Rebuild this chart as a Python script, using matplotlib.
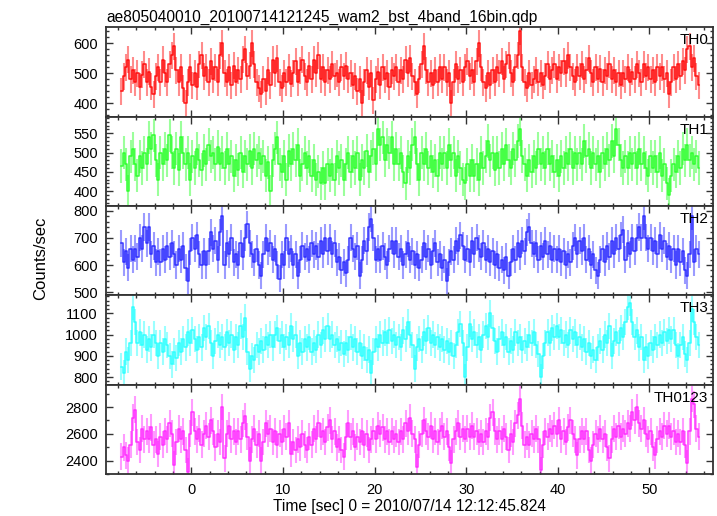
import numpy as np
import matplotlib
matplotlib.use("Agg")
import matplotlib.pyplot as plt
from matplotlib.ticker import MultipleLocator

plt.rcParams['font.family'] = ['Liberation Sans', 'DejaVu Sans']

# light curves, 0.25 s bins starting at t = -7.75 s
t_start = -7.75
bin_size = 0.25

th0 = [440, 490, 520, 545, 480, 510, 470, 500, 455, 495,
       530, 470, 505, 455, 430, 490, 520, 470, 545, 500,
       470, 530, 560, 590, 510, 470, 520, 450, 400, 470,
       520, 460, 500, 455, 530, 560, 490, 520, 470, 540,
       480, 520, 470, 560, 600, 500, 470, 520, 460, 525,
       470, 510, 480, 545, 580, 490, 525, 600, 530, 470,
       450, 430, 480, 440, 510, 460, 545, 500, 550, 470,
       450, 500, 470, 520, 465, 500, 540, 470, 510, 545,
       490, 470, 525, 480, 545, 500, 560, 480, 520, 470,
       510, 480, 530, 490, 500, 470, 520, 490, 525, 480,
       500, 460, 490, 440, 480, 400, 470, 510, 455, 500,
       410, 480, 505, 460, 520, 480, 500, 455, 510, 490,
       520, 470, 510, 480, 545, 500, 550, 490, 470, 430,
       480, 530, 590, 510, 470, 500, 460, 510, 470, 520,
       480, 520, 470, 500, 400, 470, 530, 480, 510, 470,
       520, 540, 490, 510, 470, 540, 600, 520, 470, 450,
       500, 460, 510, 470, 520, 500, 540, 480, 530, 560,
       500, 470, 520, 560, 640, 520, 470, 450, 500, 460,
       480, 510, 470, 500, 460, 490, 530, 480, 510, 530,
       480, 520, 500, 540, 500, 560, 520, 490, 470, 520,
       490, 530, 480, 510, 550, 500, 470, 520, 480, 515,
       470, 510, 490, 530, 480, 510, 470, 500, 460, 500,
       480, 520, 470, 505, 480, 530, 500, 470, 530, 490,
       520, 480, 510, 470, 520, 490, 520, 480, 500, 430,
       470, 520, 480, 530, 490, 540, 510, 580, 590, 520,
       550, 490, 460]

th1 = [465, 500, 470, 400, 490, 510, 470, 440, 490, 460,
       500, 470, 540, 510, 545, 480, 430, 500, 470, 510,
       480, 545, 500, 460, 510, 455, 540, 500, 470, 500,
       430, 490, 460, 510, 480, 455, 505, 470, 520, 490,
       500, 470, 515, 470, 500, 460, 510, 470, 490, 440,
       480, 455, 500, 450, 490, 470, 505, 460, 510, 480,
       500, 470, 490, 440, 475, 400, 480, 510, 540, 470,
       450, 490, 430, 505, 470, 510, 480, 520, 440, 470,
       500, 460, 490, 440, 480, 430, 450, 420, 460, 420,
       470, 440, 470, 430, 490, 460, 480, 430, 470, 500,
       450, 490, 460, 500, 430, 480, 460, 505, 450, 490,
       510, 470, 560, 520, 540, 480, 520, 500, 540, 470,
       510, 470, 500, 450, 420, 490, 460, 520, 540, 470,
       430, 500, 470, 510, 460, 490, 450, 480, 440, 500,
       470, 500, 460, 520, 480, 500, 440, 490, 460, 430,
       420, 470, 440, 480, 440, 470, 430, 500, 460, 490,
       530, 480, 500, 455, 500, 460, 510, 470, 520, 480,
       460, 510, 480, 530, 560, 490, 470, 440, 480, 450,
       490, 460, 510, 470, 500, 460, 510, 470, 490, 450,
       480, 440, 490, 460, 500, 470, 510, 460, 500, 470,
       500, 470, 530, 490, 510, 460, 500, 470, 490, 450,
       500, 470, 510, 480, 530, 490, 560, 520, 480, 460,
       490, 460, 500, 470, 500, 460, 510, 470, 500, 460,
       440, 490, 460, 490, 450, 500, 440, 470, 420, 390,
       440, 470, 450, 490, 460, 510, 480, 520, 480, 500,
       470, 490, 460]

th2 = [680, 610, 650, 590, 660, 620, 660, 630, 700, 660,
       740, 680, 740, 640, 670, 610, 650, 610, 660, 620,
       670, 630, 680, 640, 600, 660, 620, 670, 590, 540,
       650, 700, 660, 710, 640, 600, 650, 600, 650, 720,
       660, 690, 620, 720, 780, 600, 680, 640, 700, 610,
       640, 600, 680, 630, 700, 750, 680, 640, 610, 660,
       600, 560, 640, 700, 650, 680, 620, 660, 600, 550,
       640, 600, 700, 640, 660, 600, 640, 560, 620, 670,
       630, 660, 620, 680, 640, 670, 630, 690, 640, 700,
       650, 700, 640, 680, 610, 630, 580, 610, 570, 620,
       700, 660, 630, 670, 560, 620, 690, 650, 740, 770,
       700, 620, 660, 620, 670, 630, 600, 660, 690, 640,
       690, 630, 660, 600, 640, 680, 620, 650, 600, 640,
       590, 620, 680, 630, 660, 600, 650, 680, 610, 640,
       590, 620, 540, 610, 650, 620, 690, 650, 710, 670,
       620, 660, 610, 690, 640, 700, 660, 630, 680, 620,
       660, 610, 650, 600, 640, 590, 620, 580, 630, 560,
       610, 660, 620, 680, 630, 690, 650, 720, 740, 680,
       640, 680, 620, 670, 630, 690, 640, 670, 620, 660,
       620, 660, 610, 650, 600, 640, 610, 670, 700, 640,
       690, 650, 700, 620, 660, 600, 640, 580, 560, 620,
       660, 610, 670, 630, 690, 640, 700, 660, 710, 730,
       620, 680, 640, 700, 650, 700, 740, 700, 780, 700,
       660, 700, 650, 690, 640, 710, 660, 690, 630, 670,
       620, 660, 600, 660, 610, 650, 580, 560, 640, 780,
       610, 660, 640]

th3 = [850, 820, 920, 880, 960, 1130, 1060, 960, 1010, 950,
       1000, 930, 980, 940, 1000, 960, 900, 960, 920, 980,
       950, 900, 860, 920, 890, 960, 920, 980, 940, 1010,
       960, 1020, 980, 930, 990, 940, 1030, 990, 1040, 960,
       900, 970, 1000, 950, 990, 940, 1010, 960, 1000, 930,
       990, 950, 1040, 990, 1080, 920, 840, 900, 880, 950,
       920, 970, 930, 990, 950, 1000, 940, 1000, 1030, 970,
       1000, 940, 990, 950, 1040, 980, 1000, 900, 960, 920,
       980, 940, 990, 920, 960, 930, 1000, 950, 1020, 980,
       1040, 980, 1000, 950, 980, 930, 960, 910, 960, 930,
       990, 940, 980, 920, 960, 900, 940, 880, 930, 820,
       920, 980, 940, 1000, 960, 1010, 960, 1020, 970, 1000,
       950, 990, 940, 1020, 980, 1060, 1000, 950, 840, 940,
       980, 930, 1010, 970, 1030, 960, 1000, 950, 990, 940,
       980, 930, 970, 920, 960, 900, 950, 1010, 1050, 960,
       800, 940, 1050, 980, 1010, 950, 990, 930, 1000, 1040,
       990, 1100, 1030, 970, 920, 980, 1010, 950, 990, 920,
       970, 930, 1010, 960, 990, 930, 970, 940, 1000, 960,
       1010, 950, 910, 800, 900, 960, 1010, 960, 1030, 990,
       1040, 990, 1020, 960, 1000, 950, 1020, 980, 1010, 950,
       990, 940, 980, 920, 960, 900, 930, 880, 940, 970,
       930, 1000, 960, 1040, 900, 970, 1010, 960, 1030, 990,
       1060, 1130, 1150, 1060, 990, 1020, 940, 990, 880, 940,
       900, 960, 930, 990, 950, 1000, 960, 1010, 970, 1020,
       980, 1020, 950, 900, 950, 990, 910, 880, 960, 1120,
       1060, 990, 950]

th0123 = [2430, 2500, 2440, 2400, 2520, 2720, 2780, 2540, 2480, 2640,
          2560, 2620, 2560, 2650, 2520, 2560, 2450, 2580, 2520, 2620,
          2560, 2680, 2600, 2370, 2540, 2640, 2560, 2620, 2480, 2320,
          2600, 2760, 2620, 2560, 2640, 2520, 2600, 2660, 2580, 2700,
          2620, 2500, 2600, 2540, 2800, 2420, 2600, 2660, 2560, 2620,
          2540, 2620, 2560, 2680, 2730, 2580, 2400, 2560, 2640, 2520,
          2600, 2400, 2540, 2680, 2600, 2640, 2540, 2620, 2520, 2600,
          2540, 2640, 2580, 2680, 2450, 2540, 2480, 2560, 2500, 2600,
          2520, 2480, 2580, 2520, 2640, 2560, 2680, 2580, 2620, 2540,
          2650, 2700, 2560, 2620, 2500, 2560, 2480, 2430, 2580, 2680,
          2580, 2620, 2500, 2580, 2540, 2620, 2520, 2600, 2480, 2560,
          2620, 2560, 2660, 2600, 2650, 2560, 2620, 2540, 2620, 2560,
          2600, 2540, 2620, 2560, 2680, 2620, 2720, 2600, 2560, 2350,
          2520, 2600, 2700, 2620, 2580, 2660, 2560, 2620, 2540, 2620,
          2660, 2580, 2620, 2500, 2380, 2560, 2620, 2680, 2580, 2640,
          2560, 2640, 2580, 2660, 2580, 2620, 2540, 2600, 2540, 2620,
          2580, 2720, 2760, 2620, 2560, 2620, 2560, 2640, 2580, 2480,
          2600, 2540, 2680, 2740, 2860, 2660, 2520, 2580, 2520, 2600,
          2560, 2640, 2560, 2330, 2520, 2620, 2580, 2640, 2600, 2660,
          2600, 2700, 2560, 2620, 2540, 2650, 2700, 2600, 2560, 2440,
          2560, 2620, 2560, 2620, 2480, 2400, 2520, 2600, 2560, 2640,
          2560, 2600, 2500, 2420, 2560, 2640, 2580, 2660, 2580, 2640,
          2600, 2680, 2640, 2760, 2700, 2800, 2680, 2640, 2700, 2600,
          2560, 2620, 2500, 2440, 2560, 2620, 2580, 2660, 2600, 2660,
          2580, 2620, 2540, 2600, 2540, 2620, 2520, 2380, 2620, 2860,
          2820, 2640, 2580]

series = [th0, th1, th2, th3, th0123]
names = ["TH0", "TH1", "TH2", "TH3", "TH0123"]
errors = [45, 43, 50, 62, 100]   # typical 1-sigma error bar per band
colors = ["#ff0000", "#22ff22", "#2222ff", "#22ffff", "#ff22ff"]
ylims = [(355, 653), (361, 593), (488, 817), (764, 1184), (2300, 2965)]
ymajor = [100, 50, 100, 100, 200]
yminor = [20, 10, 20, 20, 100]

fig = plt.figure(figsize=(7.17, 5.16), dpi=100)
fig.subplots_adjust(left=0.148, right=0.994, top=0.947, bottom=0.081, hspace=0)
axes = fig.subplots(5, 1, sharex=True)

for k, ax in enumerate(axes):
    y = np.array(series[k], dtype=float)
    t = t_start + bin_size * (np.arange(len(y)) + 0.5)
    ax.errorbar(t, y, yerr=errors[k], fmt='none', ecolor=colors[k],
                elinewidth=1.5, alpha=0.45)
    ax.step(t, y, where='mid', color=colors[k], lw=1.1, alpha=0.9)
    ax.set_ylim(*ylims[k])
    ax.set_xlim(-9.3, 56.9)
    ax.yaxis.set_major_locator(MultipleLocator(ymajor[k]))
    ax.yaxis.set_minor_locator(MultipleLocator(yminor[k]))
    ax.xaxis.set_major_locator(MultipleLocator(10))
    ax.xaxis.set_minor_locator(MultipleLocator(2))
    ax.tick_params(which='both', direction='in', top=True, right=True,
                   labelsize=10.5, pad=6, width=1.0, color='#333333')
    ax.tick_params(which='major', length=5)
    ax.tick_params(which='minor', length=2.5)
    for sp in ax.spines.values():
        sp.set_linewidth(1.3)
        sp.set_color('#333333')
    ax.text(0.993, 0.935, names[k], transform=ax.transAxes, ha='right', va='top',
            fontsize=11)

axes[0].set_title("ae805040010_20100714121245_wam2_bst_4band_16bin.qdp",
                  loc='left', fontsize=11.2, pad=4)
axes[-1].set_xlabel("Time [sec] 0 = 2010/07/14 12:12:45.824", fontsize=11.2, labelpad=2)
fig.text(0.0565, 0.5, "Counts/sec", rotation=90, ha='center', va='center', fontsize=12)

fig.savefig("out.png", dpi=100)
